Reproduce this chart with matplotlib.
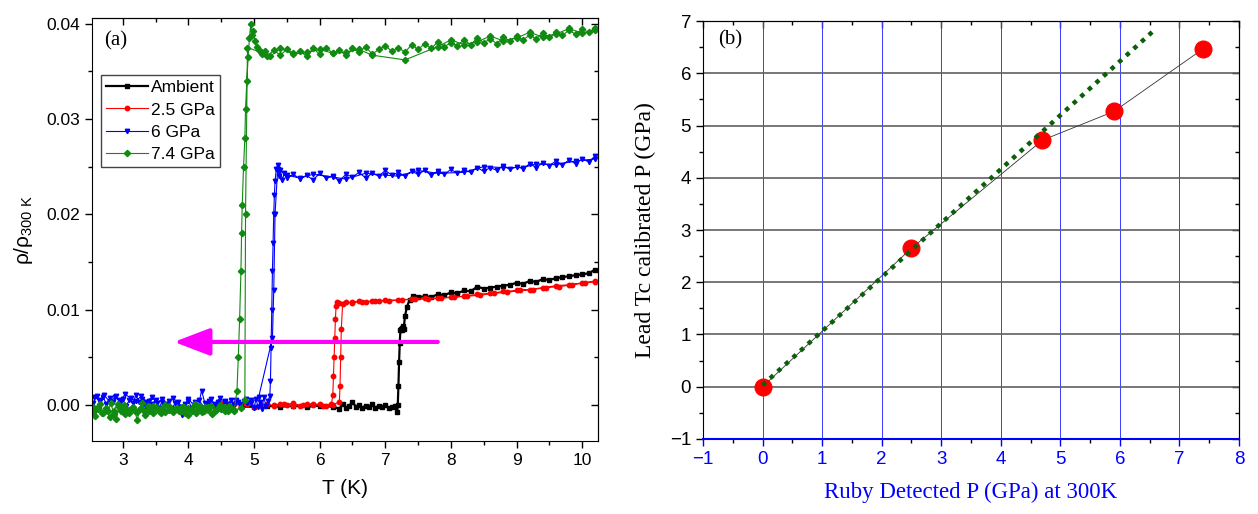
import matplotlib
matplotlib.use("Agg")
import matplotlib.pyplot as plt
from matplotlib.ticker import MultipleLocator, FormatStrFormatter

# ---- panel (a): rho / rho_300K vs T, values in units of 1e-3 ----
ambient = [
    (4.80, -0.2), (5.00, -0.2), (5.20, -0.1), (5.40, -0.2), (5.60, -0.1), (5.80, -0.2),
    (6.00, -0.1), (6.20, -0.2), (6.30, -0.4), (6.35, 0.1), (6.40, -0.3), (6.45, -0.1),
    (6.50, 0.3), (6.55, -0.2), (6.60, 0.0), (6.65, -0.3), (6.70, -0.1), (6.75, -0.2),
    (6.80, 0.1), (6.85, -0.3), (6.90, -0.1), (6.95, -0.2), (7.00, 0.0), (7.05, -0.3),
    (7.10, -0.2), (7.15, -0.1), (7.18, -0.8), (7.19, 0.0), (7.20, 2.0), (7.21, 4.5),
    (7.22, 6.5), (7.23, 7.8), (7.24, 8.0), (7.25, 8.1), (7.26, 7.9), (7.27, 8.3),
    (7.28, 8.0), (7.30, 9.3), (7.33, 10.3), (7.37, 11.0), (7.42, 11.4), (7.50, 11.3),
    (7.60, 11.4), (7.70, 11.3), (7.80, 11.6), (7.90, 11.5), (8.00, 11.8), (8.10, 11.7),
    (8.20, 12.0), (8.30, 11.9), (8.40, 12.4), (8.50, 12.2), (8.60, 12.3), (8.70, 12.4),
    (8.80, 12.5), (8.90, 12.6), (9.00, 12.8), (9.10, 12.7), (9.20, 13.0), (9.30, 12.9),
    (9.40, 13.2), (9.50, 13.1), (9.60, 13.3), (9.70, 13.4), (9.80, 13.5), (9.90, 13.6),
    (10.00, 13.7), (10.10, 13.8), (10.20, 14.2),
]

gpa_2_5 = [
    (4.30, 0.1), (4.40, -0.1), (4.50, 0.2), (4.60, 0.0), (4.70, 0.1), (4.80, -0.1),
    (4.90, 0.1), (5.00, -0.2), (5.10, 0.0), (5.20, 0.1), (5.30, -0.1), (5.40, 0.1),
    (5.50, 0.0), (5.60, 0.2), (5.70, -0.1), (5.80, 0.1), (5.90, 0.0), (6.00, 0.1),
    (6.10, -0.1), (6.18, 0.1), (6.20, 1.0), (6.21, 3.0), (6.22, 5.0), (6.23, 7.0),
    (6.24, 9.0), (6.25, 10.4), (6.27, 10.8), (6.30, 10.7), (6.40, 10.8), (6.50, 10.7),
    (6.60, 10.9), (6.70, 10.8), (6.80, 10.9), (6.90, 10.9), (7.00, 11.0), (7.20, 11.0),
    (7.40, 11.1), (7.60, 11.2), (7.80, 11.2), (8.00, 11.3), (8.20, 11.4), (8.40, 11.6),
    (8.60, 11.7), (8.80, 11.9), (9.00, 12.0), (9.20, 12.1), (9.40, 12.3), (9.60, 12.5),
    (9.80, 12.6), (10.00, 12.8), (10.20, 13.0), (10.20, 12.9), (10.05, 12.8),
    (9.85, 12.6), (9.65, 12.4), (9.45, 12.3), (9.25, 12.1), (9.05, 12.0), (8.85, 11.8),
    (8.65, 11.7), (8.45, 11.5), (8.25, 11.4), (8.05, 11.3), (7.85, 11.2), (7.65, 11.1),
    (7.45, 11.1), (7.25, 11.0), (7.05, 10.9), (6.85, 10.9), (6.65, 10.8), (6.50, 10.8),
    (6.35, 10.6), (6.33, 8.0), (6.32, 5.0), (6.31, 2.0), (6.30, 0.3), (6.20, 0.0),
    (6.05, -0.1), (5.90, 0.1), (5.75, 0.0), (5.60, -0.1), (5.45, 0.1), (5.30, 0.0),
]

gpa_6 = [
    (2.50, 0.6), (2.55, 0.2), (2.60, 0.9), (2.65, 0.4), (2.70, 0.8), (2.75, 0.1),
    (2.80, 0.7), (2.85, 0.3), (2.90, 0.9), (2.95, 0.2), (3.00, 0.6), (3.05, -0.1),
    (3.10, 0.5), (3.15, 0.2), (3.20, 1.0), (3.25, 0.3), (3.30, 0.6), (3.35, -0.2),
    (3.40, 0.4), (3.45, 0.1), (3.50, 0.5), (3.55, -0.3), (3.60, 0.3), (3.65, 0.0),
    (3.70, 0.4), (3.75, -0.4), (3.80, 0.2), (3.85, -0.2), (3.90, -1.1), (3.95, 0.1),
    (4.00, 0.4), (4.05, -0.3), (4.10, 0.3), (4.15, -0.2), (4.20, 1.5), (4.25, 0.2),
    (4.30, -0.1), (4.35, 0.6), (4.40, 0.0), (4.45, 0.3), (4.50, -0.2), (4.55, 0.4),
    (4.60, 0.1), (4.65, 0.5), (4.70, 0.0), (4.75, 0.3), (4.80, -0.1), (4.85, 0.4),
    (4.90, 0.2), (4.95, 0.5), (5.00, -0.3), (5.03, 0.6), (5.06, -0.2), (5.09, 0.3),
    (5.12, -0.4), (5.15, 0.8), (5.18, -0.1), (5.21, 0.4), (5.24, 0.9), (5.25, 2.5),
    (5.26, 6.0), (5.27, 10.0), (5.28, 14.0), (5.29, 17.0), (5.30, 20.0), (5.31, 22.0),
    (5.32, 23.5), (5.34, 24.8), (5.36, 25.2), (5.38, 24.0), (5.40, 24.6), (5.43, 23.6),
    (5.46, 24.3), (5.50, 23.8), (5.60, 24.2), (5.70, 23.7), (5.80, 24.1), (5.90, 23.6),
    (6.00, 24.3), (6.10, 23.8), (6.20, 24.0), (6.30, 23.5), (6.40, 24.2), (6.50, 23.9),
    (6.60, 24.4), (6.70, 23.8), (6.80, 24.3), (6.90, 24.0), (7.00, 24.6), (7.10, 24.1),
    (7.20, 24.4), (7.30, 24.0), (7.40, 24.5), (7.50, 24.2), (7.60, 24.6), (7.70, 24.1),
    (7.80, 24.5), (7.90, 24.2), (8.00, 24.7), (8.10, 24.3), (8.20, 24.6), (8.30, 24.4),
    (8.40, 24.9), (8.50, 24.5), (8.60, 24.9), (8.70, 24.6), (8.80, 25.1), (8.90, 24.7),
    (9.00, 25.0), (9.10, 24.8), (9.20, 25.3), (9.30, 24.9), (9.40, 25.4), (9.50, 25.1),
    (9.60, 25.6), (9.70, 25.2), (9.80, 25.7), (9.90, 25.3), (10.00, 25.8), (10.10, 25.5),
    (10.20, 26.1), (10.20, 25.8), (9.90, 25.6), (9.60, 25.2), (9.30, 25.3), (9.10, 24.9),
    (8.80, 24.9), (8.50, 25.0), (8.20, 24.4), (7.80, 24.3), (7.50, 24.6), (7.20, 24.0),
    (7.00, 24.1), (6.70, 24.3), (6.40, 23.7), (6.20, 23.9), (5.90, 24.2), (5.70, 23.8),
    (5.50, 24.1), (5.36, 24.8), (5.32, 20.0), (5.30, 12.0), (5.28, 7.0), (5.07, 0.8),
    (4.95, 0.2), (4.88, 0.6), (4.80, 0.1), (4.72, 0.5), (4.64, -0.2), (4.56, 0.3),
    (4.48, 0.7), (4.40, 0.1), (4.32, 0.4), (4.24, -0.3), (4.16, 0.5), (4.08, 0.0),
    (4.00, 0.6), (3.92, -0.4), (3.84, 0.3), (3.76, 0.7), (3.68, 0.1), (3.60, 0.6),
    (3.52, 0.2), (3.44, 0.8), (3.36, 0.3), (3.28, 0.9), (3.20, 0.4), (3.12, 0.7),
    (3.04, 1.1), (2.96, 0.5), (2.88, 0.8), (2.80, 0.3), (2.72, 1.0), (2.64, 0.5),
    (2.56, 0.8), (2.50, 0.3),
]

gpa_7_4 = [
    (2.50, -0.8), (2.54, -0.2), (2.58, -1.2), (2.62, -0.4), (2.66, 0.1), (2.70, -0.9),
    (2.74, -0.3), (2.78, -0.6), (2.82, 0.2), (2.86, -1.0), (2.90, -1.5), (2.94, -0.2),
    (2.98, -0.7), (3.02, 0.0), (3.06, -0.5), (3.10, -0.9), (3.14, -0.3), (3.18, -0.6),
    (3.22, -1.6), (3.26, -0.4), (3.30, 0.2), (3.34, -0.8), (3.38, -0.1), (3.42, -0.5),
    (3.46, -0.9), (3.50, -0.2), (3.55, -0.6), (3.60, -0.3), (3.65, -0.8), (3.70, -0.1),
    (3.75, -0.5), (3.80, -0.4), (3.85, -0.7), (3.90, -0.2), (3.95, -0.9), (4.00, -0.3),
    (4.05, -0.6), (4.10, 0.1), (4.15, -0.4), (4.20, -0.8), (4.25, -0.2), (4.30, -0.5),
    (4.35, -0.1), (4.40, -0.7), (4.45, -0.3), (4.50, -0.4), (4.55, -0.2), (4.60, -0.6),
    (4.65, -0.3), (4.70, -0.5), (4.74, 1.5), (4.76, 5.0), (4.78, 9.0), (4.80, 14.0),
    (4.81, 18.0), (4.82, 21.0), (4.84, 25.0), (4.86, 28.0), (4.87, 31.0), (4.89, 34.0),
    (4.91, 36.5), (4.93, 38.5), (4.95, 40.0), (4.97, 38.8), (4.99, 39.2), (5.01, 38.2),
    (5.04, 37.6), (5.08, 37.2), (5.12, 36.8), (5.16, 37.1), (5.20, 36.6), (5.30, 37.2),
    (5.40, 36.7), (5.50, 37.3), (5.60, 36.9), (5.70, 37.1), (5.80, 36.6), (5.90, 37.4),
    (6.00, 36.8), (6.10, 37.5), (6.20, 36.9), (6.30, 37.2), (6.40, 36.7), (6.50, 37.4),
    (6.60, 37.0), (6.70, 37.6), (6.80, 36.8), (6.90, 37.3), (7.00, 37.7), (7.10, 37.1),
    (7.20, 37.5), (7.30, 37.0), (7.40, 37.8), (7.50, 37.3), (7.60, 37.9), (7.70, 37.4),
    (7.80, 38.1), (7.90, 37.6), (8.00, 38.0), (8.10, 37.7), (8.20, 38.3), (8.30, 37.8),
    (8.40, 38.5), (8.50, 38.0), (8.60, 38.4), (8.70, 37.9), (8.80, 38.6), (8.90, 38.2),
    (9.00, 38.7), (9.10, 38.3), (9.20, 38.8), (9.30, 38.4), (9.40, 39.0), (9.50, 38.6),
    (9.60, 39.1), (9.70, 38.8), (9.80, 39.3), (9.90, 38.9), (10.00, 39.4), (10.10, 39.1),
    (10.20, 39.6), (10.20, 39.3), (10.00, 39.0), (9.80, 39.5), (9.60, 38.9), (9.40, 38.6),
    (9.20, 39.1), (9.00, 38.5), (8.80, 38.2), (8.60, 38.7), (8.40, 38.1), (8.20, 37.8),
    (8.00, 38.3), (7.80, 37.6), (7.30, 36.2), (6.80, 36.7), (6.60, 37.3), (6.40, 37.0),
    (6.20, 36.9), (6.00, 37.3), (5.80, 37.0), (5.60, 36.8), (5.40, 37.4), (5.25, 36.6),
    (5.10, 37.0), (4.90, 37.5), (4.87, 20.0), (4.86, 0.5), (4.80, -0.3), (4.70, -0.6),
    (4.62, -0.1), (4.55, -0.7), (4.48, 0.0), (4.42, -0.5), (4.36, -1.0), (4.30, -0.2),
    (4.24, -0.6), (4.18, -0.1), (4.12, -0.9), (4.06, -0.4), (4.00, -1.1), (3.94, -0.2),
    (3.88, -0.6), (3.82, -0.3), (3.76, -0.8), (3.70, -0.5), (3.64, 0.0), (3.58, -0.9),
    (3.52, -0.4), (3.46, -0.1), (3.40, -0.7), (3.34, -1.1), (3.28, -0.3), (3.22, -0.8),
    (3.16, -0.2), (3.10, -0.5), (3.04, -1.0), (2.98, -0.4), (2.92, 0.1), (2.86, -0.6),
    (2.80, -1.3), (2.74, -0.5), (2.68, -0.9), (2.62, -0.2), (2.56, -0.7), (2.52, -1.1),
]

series_labels = ["Ambient", "2.5 GPa", "6 GPa", "7.4 GPa"]
series_data = [ambient, gpa_2_5, gpa_6, gpa_7_4]
series_colors = ["black", "#ff0000", "#0000ff", "#108a10"]
series_markers = ["s", "o", "v", "D"]

arrow_T = [7.8, 3.78]
arrow_rho = 0.0066

# ---- panel (b): lead Tc calibration ----
ruby_p = [0.0, 2.5, 4.7, 5.9, 7.4]
lead_p = [0.0, 2.65, 4.72, 5.27, 6.47]
fit_x = [0.0, 6.6]
fit_y = [0.03, 6.85]

sans = ["Liberation Sans", "DejaVu Sans"]
serif = ["Liberation Serif", "DejaVu Serif"]
plt.rcParams["font.family"] = sans
plt.rcParams["mathtext.default"] = "regular"

fig = plt.figure(figsize=(12.58, 5.14), dpi=100)
ax1 = fig.add_axes([0.0731, 0.142, 0.4022, 0.823])
ax2 = fig.add_axes([0.5588, 0.146, 0.4261, 0.813])


def mirror_ticks(ax, xmaj, xmin, ymaj, ymin):
    ax.tick_params(which="both", direction="out", top=False, right=False)
    ax.tick_params(which="major", length=5, width=1)
    ax.tick_params(which="minor", length=3, width=1)
    top = ax.secondary_xaxis("top")
    top.xaxis.set_major_locator(MultipleLocator(xmaj))
    top.xaxis.set_minor_locator(MultipleLocator(xmin))
    top.tick_params(which="both", direction="in", labeltop=False)
    top.tick_params(which="major", length=5, width=1)
    top.tick_params(which="minor", length=3, width=1)
    right = ax.secondary_yaxis("right")
    right.yaxis.set_major_locator(MultipleLocator(ymaj))
    right.yaxis.set_minor_locator(MultipleLocator(ymin))
    right.tick_params(which="both", direction="in", labelright=False)
    right.tick_params(which="major", length=5, width=1)
    right.tick_params(which="minor", length=3, width=1)
    return top, right


# panel (a)
for data, lab, col, mk in zip(series_data, series_labels, series_colors, series_markers):
    T = [p[0] for p in data]
    rho = [p[1] / 1000 for p in data]
    lw = 1.6 if lab == "Ambient" else 0.8
    ax1.plot(T, rho, color=col, marker=mk, ms=3.2, lw=lw, label=lab)

ax1.annotate("", xy=(arrow_T[1], arrow_rho), xytext=(arrow_T[0], arrow_rho),
             arrowprops=dict(arrowstyle="-|>,head_length=1.1,head_width=0.42",
                             mutation_scale=20, color="#ff00ff", lw=3,
                             shrinkA=0, shrinkB=0))

ax1.set_xlim(2.53, 10.24)
ax1.set_ylim(-0.0038, 0.0406)
ax1.xaxis.set_major_locator(MultipleLocator(1))
ax1.xaxis.set_minor_locator(MultipleLocator(0.5))
ax1.yaxis.set_major_locator(MultipleLocator(0.01))
ax1.yaxis.set_minor_locator(MultipleLocator(0.005))
ax1.yaxis.set_major_formatter(FormatStrFormatter("%.2f"))
ax1.tick_params(labelsize=12.5)
mirror_ticks(ax1, 1, 0.5, 0.01, 0.005)
ax1.set_xlabel("T (K)", fontsize=15, labelpad=8)
ax1.set_ylabel("ρ/ρ$_{300\\ K}$", fontsize=15, labelpad=8)
ax1.text(0.025, 0.945, "(a)", transform=ax1.transAxes, fontsize=15,
         family=serif, va="center")
leg = ax1.legend(loc="upper left", bbox_to_anchor=(0.018, 0.865), fontsize=12.5,
                 handlelength=2.4, handletextpad=0.2, borderpad=0.3,
                 labelspacing=0.4, fancybox=False, framealpha=1,
                 borderaxespad=0)
leg.get_frame().set_edgecolor("#444444")
leg.get_frame().set_linewidth(1.0)

# panel (b)
ax2.grid(axis="x", color="#3a3aff", lw=0.7)
ax2.grid(axis="y", color="#606060", lw=1.2)
ax2.set_axisbelow(True)
ax2.plot(ruby_p, lead_p, color="#333333", lw=0.6, zorder=2)
ax2.plot(fit_x, fit_y, color="#0b5f0b", lw=3.2, linestyle=(0, (1, 1.3)), zorder=4)
ax2.plot(ruby_p, lead_p, linestyle="none", marker="o", ms=12,
         color="#ff0000", zorder=3)
ax2.set_xlim(-1, 8)
ax2.set_ylim(-1, 7)
ax2.xaxis.set_major_locator(MultipleLocator(1))
ax2.xaxis.set_minor_locator(MultipleLocator(0.5))
ax2.yaxis.set_major_locator(MultipleLocator(1))
ax2.yaxis.set_minor_locator(MultipleLocator(0.5))
ax2.tick_params(labelsize=13.5)
mirror_ticks(ax2, 1, 0.5, 1, 0.5)
ax2.spines["bottom"].set_color("#0000ff")
ax2.spines["bottom"].set_linewidth(1.5)
ax2.tick_params(axis="x", colors="#0000ff")
ax2.set_xlabel("Ruby Detected P (GPa) at 300K", fontsize=16.5, family=serif,
               color="#0000ff", labelpad=10)
ax2.set_ylabel("Lead Tc calibrated P (GPa)", fontsize=17, family=serif,
               labelpad=10)
ax2.text(0.028, 0.955, "(b)", transform=ax2.transAxes, fontsize=15,
         family=serif, va="center")

fig.savefig("out.png", dpi=100)
